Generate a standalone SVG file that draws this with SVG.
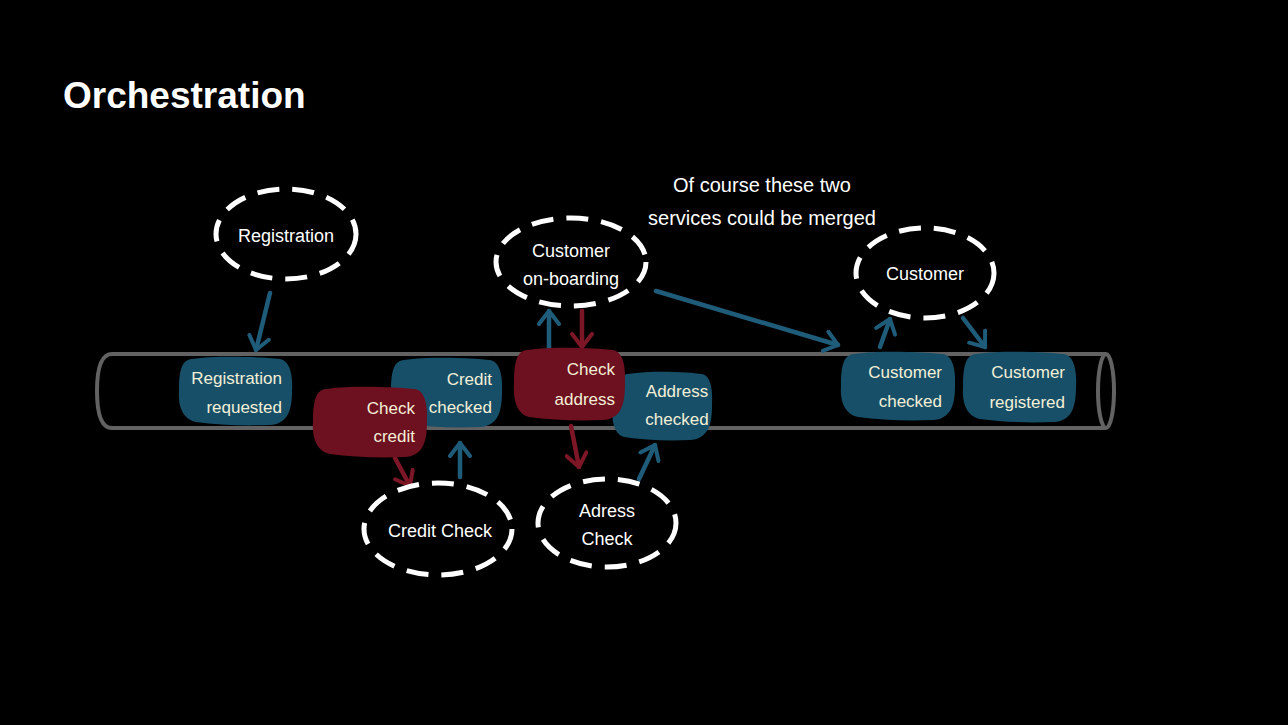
<svg xmlns="http://www.w3.org/2000/svg" width="1288" height="725" viewBox="0 0 1288 725">
  <defs>
    <style>
      .bg { fill: #000000; }
      .title { font-family: "Liberation Sans", Arial, sans-serif; font-size: 37px; font-weight: bold; fill: #ffffff; }
      .note { font-family: "Liberation Sans", Arial, sans-serif; font-size: 20px; fill: #ffffff; }
      .svc { fill: none; stroke: #ffffff; stroke-width: 5; stroke-dasharray: 22 13; }
      .svctext { font-family: "Liberation Sans", Arial, sans-serif; font-size: 18px; fill: #ffffff; text-anchor: middle; }
      .tube { fill: none; stroke: #626262; stroke-width: 4; }
      .evt { fill: #174f69; }
      .cmd { fill: #6d1020; }
      .evttext { font-family: "Liberation Sans", Arial, sans-serif; font-size: 17px; fill: #f3efd6; }
      .ablue { fill: none; stroke: #1f5c7a; stroke-width: 4.5; stroke-linecap: round; marker-end: url(#hb); }
      .ared { fill: none; stroke: #7d1626; stroke-width: 4.5; stroke-linecap: round; marker-end: url(#hr); }
    </style>
    <marker id="hb" viewBox="0 0 18 24" refX="15" refY="12" markerWidth="18" markerHeight="24" markerUnits="userSpaceOnUse" orient="auto">
      <path d="M2,2 L15,12 L2,22" fill="none" stroke="#1f5c7a" stroke-width="4" stroke-linecap="round" stroke-linejoin="round"/>
    </marker>
    <marker id="hr" viewBox="0 0 18 24" refX="15" refY="12" markerWidth="18" markerHeight="24" markerUnits="userSpaceOnUse" orient="auto">
      <path d="M2,2 L15,12 L2,22" fill="none" stroke="#7d1626" stroke-width="4" stroke-linecap="round" stroke-linejoin="round"/>
    </marker>
  </defs>

  <rect class="bg" x="0" y="0" width="1288" height="725"/>

  <text class="title" x="63" y="108">Orchestration</text>

  <g id="note">
    <text class="note" x="762" y="192" text-anchor="middle">Of course these two</text>
    <text class="note" x="762" y="225" text-anchor="middle">services could be merged</text>
  </g>

  <g id="bus">
    <path class="tube" d="M1106,354 H112 Q97,354 97,391 Q97,428 112,428 H1106"/>
    <ellipse class="tube" cx="1106" cy="391" rx="8" ry="37"/>
  </g>

  <g id="connectors">
    <path class="ablue" d="M270,293 L256,350"/>
    <path class="ared" d="M395,458 L410,486"/>
    <path class="ablue" d="M460,477 L460,443"/>
    <path class="ablue" d="M549,350 L549,311"/>
    <path class="ared" d="M582,311 L582,347"/>
    <path class="ared" d="M571,426 L579,467"/>
    <path class="ablue" d="M639,479 L655,445"/>
    <path class="ablue" d="M656,291 L838,345"/>
    <path class="ablue" d="M880,347 L890,319"/>
    <path class="ablue" d="M963,318 L985,347"/>
  </g>

  <g id="registration">
    <ellipse class="svc" cx="286" cy="234" rx="70" ry="45"/>
    <text class="svctext" x="286" y="242">Registration</text>
  </g>

  <g id="customer-onboarding">
    <ellipse class="svc" cx="571" cy="262" rx="75" ry="44"/>
    <text class="svctext" x="571" y="257">Customer</text>
    <text class="svctext" x="571" y="285">on-boarding</text>
  </g>

  <g id="customer">
    <ellipse class="svc" cx="925" cy="273" rx="69" ry="45"/>
    <text class="svctext" x="925" y="280">Customer</text>
  </g>

  <g id="credit-check">
    <ellipse class="svc" cx="438" cy="529" rx="74" ry="46"/>
    <text class="svctext" x="440" y="537">Credit Check</text>
  </g>

  <g id="adress-check">
    <ellipse class="svc" cx="607" cy="523" rx="69" ry="44"/>
    <text class="svctext" x="607" y="517">Adress</text>
    <text class="svctext" x="607" y="545">Check</text>
  </g>

  <g id="registration-requested">
    <path class="evt" d="M192,359 C218,355 262,357 280,359 C290,361 293,375 292,391 C292,413 286,424 270,425 C242,426 218,425 196,422 C182,419 178,405 179,391 C179,369 182,360 192,359 Z"/>
    <text class="evttext" x="282" y="384" text-anchor="end">Registration</text>
    <text class="evttext" x="282" y="413" text-anchor="end">requested</text>
  </g>

  <g id="credit-checked">
    <path class="evt" d="M404,360 C430,356 474,358 490,360 C500,362 503,376 502,392 C502,415 496,426 480,427 C452,428 428,427 406,424 C394,421 390,407 391,392 C391,370 394,361 404,360 Z"/>
    <text class="evttext" x="492" y="385" text-anchor="end">Credit</text>
    <text class="evttext" x="492" y="413" text-anchor="end">checked</text>
  </g>

  <g id="check-credit">
    <path class="cmd" d="M326,389 C352,385 396,387 415,389 C425,391 428,405 427,422 C427,445 421,456 405,457 C377,458 352,457 330,454 C316,451 312,437 313,422 C313,400 316,390 326,389 Z"/>
    <text class="evttext" x="415" y="414" text-anchor="end">Check</text>
    <text class="evttext" x="415" y="442" text-anchor="end">credit</text>
  </g>

  <g id="address-checked">
    <path class="evt" d="M628,374 C652,370 690,372 702,374 C711,376 713,390 712,406 C712,428 706,439 690,440 C665,441 644,440 624,437 C614,434 611,420 613,406 C614,388 618,375 628,374 Z"/>
    <text class="evttext" x="677" y="397" text-anchor="middle">Address</text>
    <text class="evttext" x="677" y="425" text-anchor="middle">checked</text>
  </g>

  <g id="check-address">
    <path class="cmd" d="M527,350 C553,346 597,348 613,350 C623,352 626,366 625,384 C625,408 619,419 603,420 C575,421 551,420 529,417 C517,414 513,400 514,384 C514,361 517,351 527,350 Z"/>
    <text class="evttext" x="615" y="375" text-anchor="end">Check</text>
    <text class="evttext" x="615" y="405" text-anchor="end">address</text>
  </g>

  <g id="customer-checked">
    <path class="evt" d="M854,354 C880,350 924,352 943,354 C953,356 956,370 955,386 C955,408 949,419 933,420 C905,421 880,420 858,417 C844,414 840,400 841,386 C841,364 844,355 854,354 Z"/>
    <text class="evttext" x="942" y="378" text-anchor="end">Customer</text>
    <text class="evttext" x="942" y="407" text-anchor="end">checked</text>
  </g>

  <g id="customer-registered">
    <path class="evt" d="M976,354 C1002,350 1046,352 1064,354 C1074,356 1077,370 1076,387 C1076,410 1070,421 1054,422 C1026,423 1002,422 980,419 C966,416 962,402 963,387 C963,365 966,355 976,354 Z"/>
    <text class="evttext" x="1065" y="378" text-anchor="end">Customer</text>
    <text class="evttext" x="1065" y="408" text-anchor="end">registered</text>
  </g>
</svg>
